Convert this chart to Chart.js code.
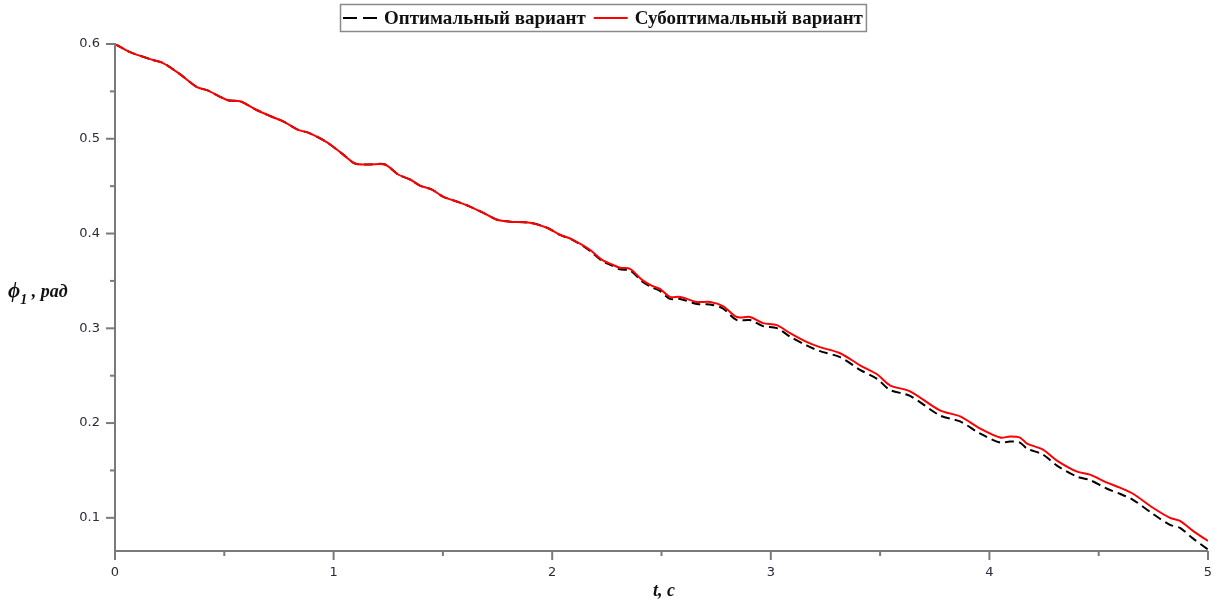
<!DOCTYPE html>
<html>
<head>
<meta charset="utf-8">
<script src="https://cdn.jsdelivr.net/npm/chart.js@4.4.1/dist/chart.umd.min.js"></script>
<style>
  html, body { margin: 0; padding: 0; background: #ffffff; }
  #wrap { width: 1219px; height: 603px; position: relative; }
</style>
</head>
<body>
<div id="wrap"><canvas id="c" width="1219" height="603"></canvas></div>
<script>
// ---- data ----
const tValues = [0, 0.069, 0.174, 0.220, 0.297, 0.375, 0.421, 0.517, 0.572, 0.650,
  0.723, 0.769, 0.833, 0.892, 0.970, 1.043, 1.098, 1.162, 1.235, 1.295,
  1.350, 1.395, 1.450, 1.500, 1.578, 1.624, 1.683, 1.748, 1.807, 1.898,
  1.976, 2.036, 2.095, 2.173, 2.228, 2.278, 2.310, 2.356, 2.411, 2.457,
  2.493, 2.539, 2.585, 2.662, 2.722, 2.781, 2.845, 2.905, 2.964, 3.028,
  3.088, 3.166, 3.225, 3.317, 3.408, 3.486, 3.545, 3.637, 3.774, 3.866,
  3.957, 4.049, 4.094, 4.140, 4.172, 4.245, 4.309, 4.401, 4.460, 4.538,
  4.597, 4.657, 4.748, 4.826, 4.872, 4.931, 5.0];

const suboptimal = [0.600, 0.5915, 0.5831, 0.5799, 0.5682, 0.5544, 0.5513, 0.5407, 0.5396, 0.5301,
  0.5227, 0.5184, 0.5100, 0.5057, 0.4962, 0.4835, 0.4739, 0.4729, 0.4729, 0.4623,
  0.4570, 0.4506, 0.4464, 0.4390, 0.4326, 0.4284, 0.4220, 0.4146, 0.4125, 0.4114,
  0.4061, 0.3987, 0.3934, 0.3828, 0.3722, 0.3669, 0.3638, 0.3627, 0.3511, 0.3447,
  0.3415, 0.3331, 0.3331, 0.3278, 0.3278, 0.3235, 0.3119, 0.3119, 0.3055, 0.3034,
  0.2949, 0.2854, 0.2801, 0.2737, 0.2610, 0.2515, 0.2398, 0.2335, 0.2133, 0.2070,
  0.1943, 0.1847, 0.1858, 0.1847, 0.1784, 0.1720, 0.1604, 0.1487, 0.1456, 0.1371,
  0.1318, 0.1254, 0.1106, 0.1000, 0.0968, 0.0862, 0.0756];

const optimal = [0.600, 0.5915, 0.5831, 0.5799, 0.5682, 0.5544, 0.5513, 0.5407, 0.5396, 0.5301,
  0.5227, 0.5184, 0.5100, 0.5057, 0.4962, 0.4835, 0.4739, 0.4729, 0.4729, 0.4623,
  0.4570, 0.4506, 0.4464, 0.4390, 0.4326, 0.4284, 0.4220, 0.4146, 0.4125, 0.4114,
  0.4061, 0.3985, 0.3930, 0.3817, 0.3711, 0.3658, 0.3622, 0.3611, 0.3495, 0.3431,
  0.3394, 0.3310, 0.3310, 0.3257, 0.3252, 0.3209, 0.3087, 0.3087, 0.3023, 0.3002,
  0.2912, 0.2817, 0.2759, 0.2695, 0.2562, 0.2467, 0.2350, 0.2287, 0.2080, 0.2017,
  0.1890, 0.1794, 0.1805, 0.1794, 0.1731, 0.1667, 0.1551, 0.1434, 0.1398, 0.1307,
  0.1254, 0.1190, 0.1042, 0.0926, 0.0894, 0.0783, 0.0665];

const seriesNames = ['Оптимальный вариант', 'Субоптимальный вариант'];
const xMajorTicks = [0, 1, 2, 3, 4, 5];
const xMinorTicks = [0.5, 1.5, 2.5, 3.5, 4.5];
const yMajorTicks = [0.1, 0.2, 0.3, 0.4, 0.5, 0.6];
const yMinorTicks = [0.15, 0.25, 0.35, 0.45, 0.55];
const xTitle = 't, c';
const yTitleSymbol = 'ϕ';
const yTitleSub = '1';
const yTitleRest = ' , рад';

// ---- chart ----
const serif = '"Liberation Serif", "DejaVu Serif", serif';
const axisColor = '#7a7a7a';

const axesPlugin = {
  id: 'mapleAxes',
  afterDraw(chart) {
    const { ctx, chartArea: a, scales: { x, y } } = chart;
    ctx.save();
    ctx.strokeStyle = axisColor;
    ctx.lineWidth = 2;
    const line = (x1, y1, x2, y2) => { ctx.beginPath(); ctx.moveTo(x1, y1); ctx.lineTo(x2, y2); ctx.stroke(); };
    line(a.left, a.bottom, a.right, a.bottom);
    line(a.left, a.top - 1, a.left, a.bottom);
    xMajorTicks.forEach(v => { const p = x.getPixelForValue(v); line(p, a.bottom, p, a.bottom + 9); });
    xMinorTicks.forEach(v => { const p = x.getPixelForValue(v); line(p, a.bottom, p, a.bottom + 5); });
    yMajorTicks.forEach(v => { const p = y.getPixelForValue(v); line(a.left - 9, p, a.left, p); });
    yMinorTicks.forEach(v => { const p = y.getPixelForValue(v); line(a.left - 5, p, a.left, p); });

    // axis titles
    ctx.fillStyle = '#111';
    ctx.textBaseline = 'alphabetic';
    ctx.textAlign = 'center';
    ctx.font = 'italic bold 18px ' + serif;
    ctx.fillText(xTitle, 664, 596);

    ctx.textAlign = 'left';
    let px = 8;
    ctx.font = 'italic bold 21px ' + serif;
    ctx.fillText(yTitleSymbol, px, 297);
    px += ctx.measureText(yTitleSymbol).width;
    ctx.font = 'italic bold 14px ' + serif;
    ctx.fillText(yTitleSub, px, 304);
    px += ctx.measureText(yTitleSub).width;
    ctx.font = 'italic bold 18px ' + serif;
    ctx.fillText(yTitleRest, px, 297);

    // legend
    ctx.font = 'bold 19px ' + serif;
    const sample = 34, gapA = 7, gapB = 8, pad = 3;
    const w0 = ctx.measureText(seriesNames[0]).width;
    const w1 = ctx.measureText(seriesNames[1]).width;
    const total = pad + sample + gapA + w0 + gapB + sample + gapA + w1 + pad;
    const cx = 602.5;
    const bx = Math.round(cx - total / 2);
    const by = 4, bh = 27;
    ctx.strokeStyle = '#8a8a8a';
    ctx.lineWidth = 1.5;
    ctx.strokeRect(bx + 0.5, by + 0.5, total, bh);
    const ly = by + bh / 2 + 0.5;
    let lx = bx + pad;
    ctx.strokeStyle = '#000';
    ctx.lineWidth = 2;
    ctx.setLineDash([14, 6]);
    line(lx, ly, lx + sample, ly);
    ctx.setLineDash([]);
    lx += sample + gapA;
    ctx.fillStyle = '#111';
    ctx.textBaseline = 'middle';
    ctx.fillText(seriesNames[0], lx, ly + 1);
    lx += w0 + gapB;
    ctx.strokeStyle = '#ff0000';
    line(lx, ly, lx + sample, ly);
    lx += sample + gapA;
    ctx.fillText(seriesNames[1], lx, ly + 1);
    ctx.restore();
  }
};

const toPoints = arr => arr.map((v, i) => ({ x: tValues[i], y: v }));

new Chart(document.getElementById('c'), {
  type: 'line',
  data: {
    datasets: [
      {
        label: seriesNames[0],
        data: toPoints(optimal),
        borderColor: '#000000',
        borderWidth: 2,
        borderDash: [9, 5],
        pointRadius: 0,
        tension: 0.3,
        fill: false,
        order: 1
      },
      {
        label: seriesNames[1],
        data: toPoints(suboptimal),
        borderColor: '#ff0000',
        borderWidth: 2,
        pointRadius: 0,
        tension: 0.3,
        fill: false,
        order: 0
      }
    ]
  },
  options: {
    responsive: false,
    animation: false,
    devicePixelRatio: 1,
    layout: { padding: { left: 0, right: 11, top: 44, bottom: 0 } },
    plugins: { legend: { display: false }, tooltip: { enabled: false }, title: { display: false } },
    scales: {
      x: {
        type: 'linear',
        min: 0, max: 5,
        border: { display: false },
        grid: { display: true, drawOnChartArea: false, drawTicks: true, tickLength: 12, color: 'rgba(0,0,0,0)' },
        afterBuildTicks: s => { s.ticks = xMajorTicks.map(v => ({ value: v })); },
        afterFit: s => { s.height = 52; },
        ticks: {
          padding: 2,
          color: '#2a2a3a',
          font: { family: '"DejaVu Sans", sans-serif', size: 13 },
          maxRotation: 0,
          autoSkip: false,
          callback: v => String(v)
        }
      },
      y: {
        type: 'linear',
        min: 0.065, max: 0.6,
        border: { display: false },
        grid: { display: false, drawTicks: false },
        afterBuildTicks: s => { s.ticks = yMajorTicks.map(v => ({ value: v })); },
        afterFit: s => { s.width = 115; },
        ticks: {
          padding: 15,
          color: '#2a2a3a',
          font: { family: '"DejaVu Sans", sans-serif', size: 13 },
          autoSkip: false,
          callback: v => v.toFixed(1)
        }
      }
    }
  },
  plugins: [axesPlugin]
});
</script>
</body>
</html>
